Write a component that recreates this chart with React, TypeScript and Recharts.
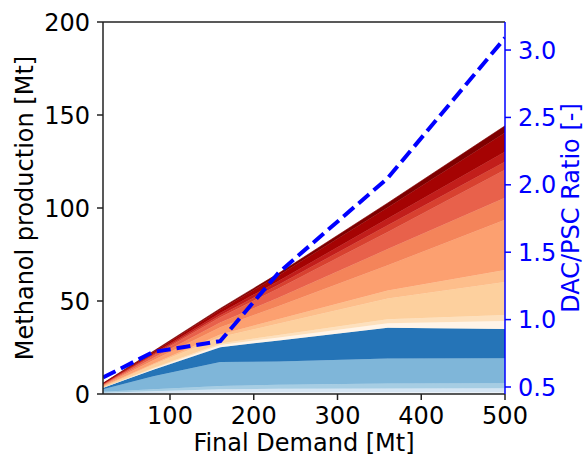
import React from "react";
import { ComposedChart, Area, Line, XAxis, YAxis, ReferenceLine } from "recharts";

// final demand points [Mt]
const demand = [20, 80, 160, 230, 360, 500];

// blue layers (bottom up) [Mt]
const blue0 = [0.3, 0.6, 1.0, 1.0, 1.0, 1.0];
const blue1 = [0.4, 0.9, 1.5, 1.8, 2.0, 2.1];
const blue2 = [0.5, 1.1, 1.8, 2.2, 2.7, 2.7];
const blue3 = [1.3, 7.0, 12.9, 12.5, 13.4, 13.4];
const blue4 = [0.8, 3.5, 8.0, 11.3, 16.5, 15.8];

// red layers (bottom up) [Mt]
const red1 = [0.15, 0.5, 1.2, 1.6, 2.4, 4.3];
const red2 = [0.1, 0.4, 0.8, 1.3, 2.2, 3.2];
const red3 = [0.4, 1.7, 3.5, 6.2, 11.2, 17.7];
const red4 = [0.15, 0.6, 1.3, 2.4, 4.3, 6.5];
const red5 = [0.45, 1.8, 3.9, 7.0, 13.5, 27.0];
const red6 = [0.3, 1.2, 2.6, 4.6, 8.7, 11.8];
const red7 = [0.35, 1.3, 2.8, 5.0, 9.2, 15.0];
const red8 = [0.15, 0.5, 1.1, 2.0, 3.6, 4.3];
const red9 = [0.15, 0.5, 1.1, 2.0, 3.6, 5.4];
const red10 = [0.2, 1.0, 1.8, 3.0, 6.0, 10.2];
const red11 = [0.1, 0.4, 0.7, 1.1, 2.4, 3.8];

// DAC/PSC ratio [-]
const ratio = [0.57, 0.76, 0.84, 1.35, 2.05, 3.09];

const xTicks = [100, 200, 300, 400, 500];
const leftTicks = [0, 50, 100, 150, 200];
const rightTicks = [0.5, 1.0, 1.5, 2.0, 2.5, 3.0];

const layers = [
  { key: "b0", values: blue0, color: "#eef5fc" },
  { key: "b1", values: blue1, color: "#d5e5f3" },
  { key: "b2", values: blue2, color: "#a6cde3" },
  { key: "b3", values: blue3, color: "#7fb6d9" },
  { key: "b4", values: blue4, color: "#2574b7" },
  { key: "r1", values: red1, color: "#fff4e8" },
  { key: "r2", values: red2, color: "#fde0bd" },
  { key: "r3", values: red3, color: "#fdd09e" },
  { key: "r4", values: red4, color: "#fdbe8b" },
  { key: "r5", values: red5, color: "#fca070" },
  { key: "r6", values: red6, color: "#f4845a" },
  { key: "r7", values: red7, color: "#e8614b" },
  { key: "r8", values: red8, color: "#d84130" },
  { key: "r9", values: red9, color: "#c21e1b" },
  { key: "r10", values: red10, color: "#a50303" },
  { key: "r11", values: red11, color: "#7f0000" },
];

const data = demand.map((d, i) => {
  const row: Record<string, number> = { demand: d, ratio: ratio[i] };
  layers.forEach((l) => (row[l.key] = l.values[i]));
  return row;
});

const font = "DejaVu Sans, sans-serif";
const fs = 24;

const rotatedLabel = (text: string, cx: number, color: string) => (props: any) => {
  const vb = props.viewBox;
  const cy = vb.y + vb.height / 2;
  return (
    <text
      x={cx}
      y={cy}
      transform={`rotate(-90 ${cx} ${cy})`}
      textAnchor="middle"
      dominantBaseline="central"
      fill={color}
      fontSize={fs}
      fontFamily={font}
    >
      {text}
    </text>
  );
};

const bottomLabel = (props: any) => {
  const vb = props.viewBox;
  return (
    <text x={vb.x + vb.width / 2} y={451} textAnchor="middle" fill="#000" fontSize={fs} fontFamily={font}>
      Final Demand [Mt]
    </text>
  );
};

export default function App() {
  // pinned to the page corner so the body margin plays no part
  return (
    <div style={{ position: "absolute", left: 0, top: 0, width: 584, height: 458, fontFamily: font }}>
      <ComposedChart width={584} height={458} data={data} margin={{ top: 22, right: 0, bottom: 0, left: 0 }}>
        <XAxis
          dataKey="demand"
          type="number"
          domain={[20, 500]}
          ticks={xTicks}
          allowDataOverflow
          height={64}
          stroke="#222"
          strokeWidth={1.5}
          tickSize={6}
          tickMargin={7}
          tick={{ fill: "#000", fontSize: fs, fontFamily: font }}
          label={bottomLabel}
        />
        <YAxis
          yAxisId="left"
          domain={[0, 200]}
          ticks={leftTicks}
          width={103}
          stroke="#222"
          strokeWidth={1.5}
          tickSize={6}
          tickMargin={7}
          tick={{ fill: "#000", fontSize: fs, fontFamily: font }}
          label={rotatedLabel("Methanol production [Mt]", 25, "#000")}
        />
        <YAxis
          yAxisId="right"
          orientation="right"
          domain={[0.448, 3.208]}
          ticks={rightTicks}
          allowDataOverflow
          width={79}
          stroke="#0000ff"
          strokeWidth={1.5}
          tickSize={6}
          tickMargin={7}
          tickFormatter={(v: number) => v.toFixed(1)}
          tick={{ fill: "#0000ff", fontSize: fs, fontFamily: font }}
          label={rotatedLabel("DAC/PSC Ratio [-]", 571, "#0000ff")}
        />
        {layers.map((l) => (
          <Area
            key={l.key}
            yAxisId="left"
            dataKey={l.key}
            stackId="a"
            type="linear"
            fill={l.color}
            fillOpacity={1}
            stroke={l.color}
            strokeWidth={0.6}
            isAnimationActive={false}
            dot={false}
            activeDot={false}
          />
        ))}
        <ReferenceLine yAxisId="left" y={200} stroke="#222" strokeWidth={1.5} />
        <Line
          yAxisId="right"
          dataKey="ratio"
          type="linear"
          stroke="#0000ff"
          strokeWidth={4}
          strokeDasharray="14 6"
          dot={false}
          activeDot={false}
          isAnimationActive={false}
        />
      </ComposedChart>
    </div>
  );
}
